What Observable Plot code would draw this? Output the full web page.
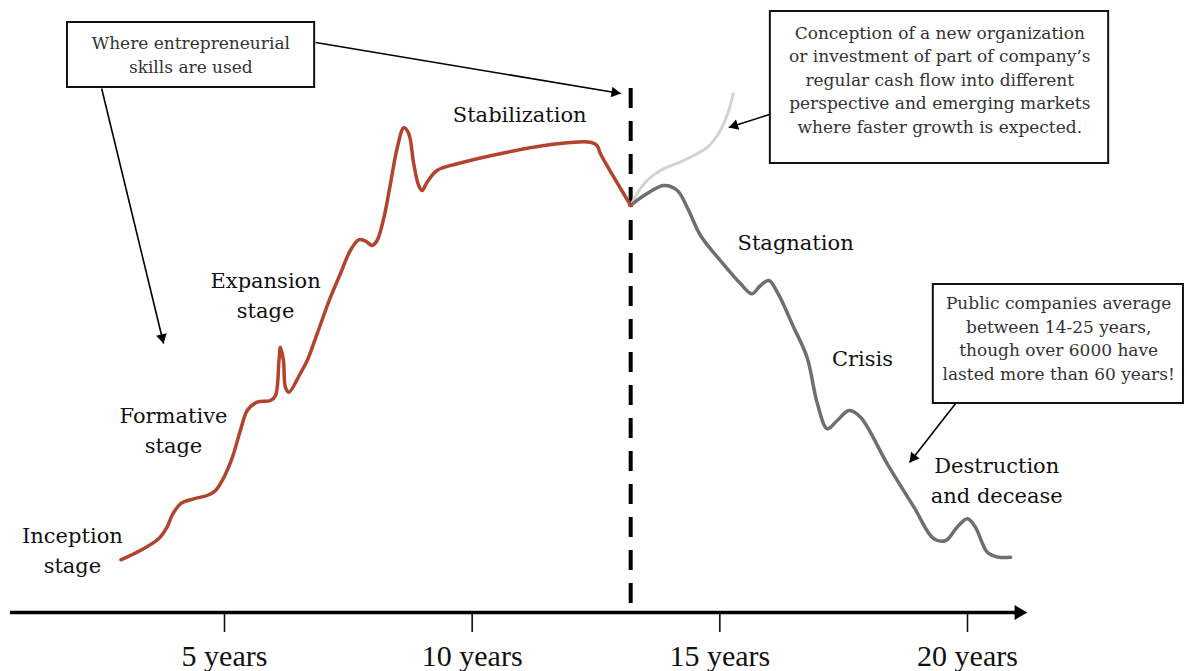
<!DOCTYPE html>
<html>
<head>
<meta charset="utf-8">
<script src="https://cdn.jsdelivr.net/npm/d3@7"></script>
<script src="https://cdn.jsdelivr.net/npm/@observablehq/plot@0.6"></script>
<style>
  html, body { margin: 0; padding: 0; background: #fff; }
  #chart svg { display: block; }
</style>
</head>
<body>
<div id="chart"></div>
<script>
// ---- Data (years on x, arbitrary "company size" on y) ----
const tickYears = [5, 10, 15, 20];

// growth phase (red/brown), up to the dashed line
const growthX = [2.91, 3.30, 3.67, 3.84, 3.94, 4.11, 4.38, 4.65, 4.82, 4.99, 5.16, 5.32, 5.46, 5.66, 5.93, 6.03, 6.10, 6.13, 6.19, 6.23, 6.30, 6.53, 6.67, 6.87, 7.14, 7.34, 7.54, 7.71, 7.85, 7.98, 8.08, 8.22, 8.35, 8.49, 8.62, 8.72, 8.82, 8.92, 8.99, 9.09, 9.29, 9.70, 10.71, 11.72, 12.39, 12.52, 12.59, 12.86, 13.20];
const growthY = [52.7, 62, 73.7, 85.3, 97, 108.7, 113.7, 117, 122, 135.3, 155.3, 182, 202, 210.3, 212, 217, 252, 265.3, 252, 225.3, 220.3, 239, 252, 278.7, 315.3, 338.7, 362, 372.7, 371.3, 367, 372, 395.3, 428.7, 465.3, 484.7, 478.7, 448.7, 427, 422, 430.3, 442, 448.7, 460.3, 468.7, 470.3, 467, 458.7, 435.3, 407];

// decline phase (gray)
const declineX = [13.20, 13.47, 13.87, 14.14, 14.34, 14.61, 15.01, 15.42, 15.65, 15.82, 15.99, 16.16, 16.49, 16.76, 16.97, 17.17, 17.37, 17.61, 17.84, 18.38, 18.92, 19.32, 19.56, 19.79, 20.00, 20.16, 20.40, 20.63, 20.87];
const declineY = [407, 417, 427, 422, 405.3, 377, 352, 328.7, 318.7, 327, 332, 320.3, 285.3, 255.3, 208.7, 183.7, 192, 202, 195.3, 148.7, 105.3, 73.7, 72, 85.3, 93.7, 85.3, 60.3, 55.3, 55.3];

// renewal branch (light gray)
const renewalX = [13.20, 13.47, 13.80, 14.27, 14.75, 15.01, 15.18, 15.27];
const renewalY = [407, 428.7, 442, 452, 465.3, 482, 502, 518.7];

// stage labels
const stageText = ["Inception\nstage", "Formative\nstage", "Expansion\nstage", "Stabilization", "Stagnation", "Crisis", "Destruction\nand decease"];
const stageX = [1.93, 3.97, 5.83, 10.96, 16.53, 17.88, 20.59];
const stageY = [91, 211, 346, 512, 384, 268, 161];

// annotation boxes
const boxText = [
  "Where entrepreneurial\nskills are used",
  "Conception of a new organization\nor investment of part of company’s\nregular cash flow into different\nperspective and emerging markets\nwhere faster growth is expected.",
  "Public companies average\nbetween 14-25 years,\nthough over 6000 have\nlasted more than 60 years!"
];
const boxX1 = [1.83, 16.02, 19.31];
const boxX2 = [6.82, 22.85, 24.36];
const boxY1 = [525, 449, 209];
const boxY2 = [590, 601, 328];
const boxTextX = [4.32, 19.44, 21.84];
const boxTextY = [580.4, 590.4, 320.4];
const boxLineHeight = [1.41, 1.38, 1.39];

// annotation arrows (from -> to)
const arrowX1 = [6.84, 2.52, 16.00, 19.76];
const arrowY1 = [570, 524, 498, 209];
const arrowX2 = [13.00, 3.77, 15.18, 18.83];
const arrowY2 = [519, 269, 485, 150];

// time axis extent and the "new venture" dashed marker
const axisStart = 0.68, axisEnd = 21.21;
const markerYear = 13.20, markerY1 = 524, markerY2 = 9;

// ---- Build tables ----
const zip = (xs, ys) => xs.map((x, i) => ({x, y: ys[i]}));
const growth = zip(growthX, growthY);
const decline = zip(declineX, declineY);
const renewal = zip(renewalX, renewalY);
const stages = stageText.map((t, i) => ({text: t, x: stageX[i], y: stageY[i]}));
const boxes = boxText.map((t, i) => ({text: t, x1: boxX1[i], x2: boxX2[i], y1: boxY1[i], y2: boxY2[i], tx: boxTextX[i], ty: boxTextY[i], lh: boxLineHeight[i]}));
const arrows = arrowX1.map((x1, i) => ({x1, y1: arrowY1[i], x2: arrowX2[i], y2: arrowY2[i]}));

// scales (shared with Plot)
const X_DOMAIN = [5, 20], X_RANGE = [224, 967];
const Y_DOMAIN = [0, 612], Y_RANGE = [612, 0];
const sx = d3.scaleLinear(X_DOMAIN, X_RANGE);
const sy = d3.scaleLinear(Y_DOMAIN, Y_RANGE);

// arrowhead placement helpers (triangle centroid behind the tip)
function headFor(d, r) {
  const px1 = sx(d.x1), py1 = sy(d.y1), px2 = sx(d.x2), py2 = sy(d.y2);
  const L = Math.hypot(px2 - px1, py2 - py1);
  const ux = (px2 - px1) / L, uy = (py2 - py1) / L;
  const size = r * r * Math.PI;
  const tip = 2 * Math.sqrt(size / (Math.sqrt(3) * 3));
  return {
    x: sx.invert(px2 - ux * tip),
    y: sy.invert(py2 - uy * tip),
    rotate: Math.atan2(ux, -uy) * 180 / Math.PI
  };
}
const headR = 4;
const heads = arrows.map(d => headFor(d, headR));
const axisHead = headFor({x1: axisStart, y1: 0, x2: axisEnd, y2: 0}, 5.5);

const serif = "DejaVu Serif";

const chart = Plot.plot({
  width: 1187,
  height: 671,
  marginTop: 0,
  marginLeft: 0,
  marginRight: 0,
  marginBottom: 59,
  x: {domain: X_DOMAIN, range: X_RANGE},
  y: {domain: Y_DOMAIN, range: Y_RANGE, axis: null},
  marks: [
    // time axis
    Plot.axisX({ticks: tickYears, tickFormat: d => `${d} years`, tickSize: 20, tickPadding: 12,
      fontSize: 30, fontFamily: "Liberation Serif", strokeWidth: 1.6, stroke: "#111", fill: "#111"}),
    Plot.ruleY([0], {x1: axisStart, x2: axisHead.x, stroke: "#000", strokeWidth: 3.5}),
    Plot.dot([axisHead], {x: "x", y: "y", symbol: "triangle", r: 5.5, rotate: "rotate", fill: "#000", stroke: null}),

    // dashed divider
    Plot.ruleX([markerYear], {y1: markerY1, y2: markerY2, stroke: "#000", strokeWidth: 4, strokeDasharray: "20,13"}),

    // curves
    Plot.line(renewal, {x: "x", y: "y", curve: "catmull-rom", stroke: "#d3d4cf", strokeWidth: 3}),
    Plot.line(decline, {x: "x", y: "y", curve: "catmull-rom", stroke: "#6f6f6f", strokeWidth: 3.5}),
    Plot.line(growth, {x: "x", y: "y", curve: "catmull-rom", stroke: "#b2432c", strokeWidth: 3.5}),

    // stage labels
    Plot.text(stages, {x: "x", y: "y", text: "text", fontFamily: serif, fontSize: 21, lineAnchor: "top", lineHeight: 30 / 21, fill: "#111"}),

    // annotation arrows
    Plot.link(arrows, {x1: "x1", y1: "y1", x2: "x2", y2: "y2", stroke: "#000", strokeWidth: 1.6}),
    Plot.dot(heads, {x: "x", y: "y", symbol: "triangle", r: headR, rotate: "rotate", fill: "#000", stroke: null}),

    // annotation boxes
    Plot.rect(boxes, {x1: "x1", x2: "x2", y1: "y1", y2: "y2", fill: "#fff", stroke: "#111", strokeWidth: 2}),
    ...boxes.map(b => Plot.text([b], {x: "tx", y: "ty", text: "text", fontFamily: serif, fontSize: 17, lineAnchor: "top", lineHeight: b.lh, fill: "#333"}))
  ]
});
document.getElementById("chart").appendChild(chart);
</script>
</body>
</html>
